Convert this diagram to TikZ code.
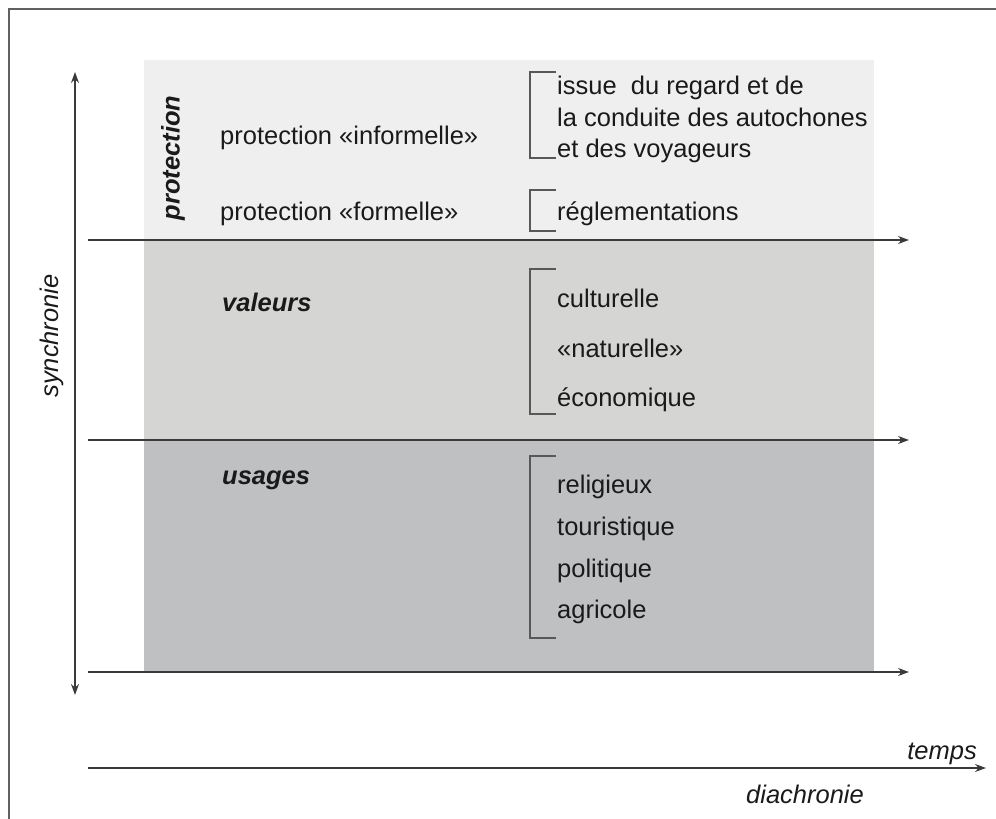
\documentclass[tikz,border=0pt]{standalone}
\usepackage{fontspec}
\setmainfont{Liberation Sans}
\usetikzlibrary{arrows.meta}

\definecolor{bandhaut}{HTML}{EFEFEF}
\definecolor{bandmilieu}{HTML}{D5D6D4}
\definecolor{bandbas}{HTML}{BFC0C1}
\definecolor{trait}{HTML}{3A3A3A}
\definecolor{encre}{HTML}{1A1A1A}

\tikzset{
  fleche/.style={line width=1.2pt, color=trait, >={Stealth[length=11pt,width=8pt]}},
  crochet/.style={line width=1.3pt, color=trait!85},
  texte/.style={anchor=base west, inner sep=0pt, text=encre,
    font=\fontsize{25.5}{31}\selectfont},
  titre/.style={texte, font=\fontsize{25.5}{31}\selectfont\bfseries\itshape},
  axe/.style={inner sep=0pt, text=encre, font=\fontsize{25.5}{31}\selectfont\itshape},
}

\begin{document}
\begin{tikzpicture}[x=1pt, y=-1pt]
    \useasboundingbox (0,0) rectangle (996,819);

    % cadre
    \draw [-, line width=1.4pt, color=trait!80]
    (9, 819) -- (9, 9) -- (996, 9);

    % bandes
    \fill [color=bandhaut] (144, 60) rectangle (874, 240);
    \fill [color=bandmilieu] (144, 240) rectangle (874, 440);
    \fill [color=bandbas] (144, 440) rectangle (874, 672);

    % axes
    \foreach \y/\n in {240/a, 440/b, 672/c} {
      \coordinate (g\n) at (88, \y);
      \coordinate (d\n) at (909, \y);
      \draw [fleche, ->] (g\n) -- (d\n);
    }
    \coordinate (sh) at (75, 72);
    \coordinate (sb) at (75, 695);
    \draw [fleche, <->] (sh) -- (sb);
    \coordinate (tg) at (88, 768);
    \coordinate (td) at (986, 768);
    \draw [fleche, ->] (tg) -- (td);

    % crochets
    \draw [crochet] (556, 72) -- (530, 72) -- (530, 158) -- (556, 158);
    \draw [crochet] (556, 190) -- (530, 190) -- (530, 231) -- (556, 231);
    \draw [crochet] (556, 269) -- (530, 269) -- (530, 414) -- (556, 414);
    \draw [crochet] (556, 456) -- (530, 456) -- (530, 638) -- (556, 638);

    % textes
    \node [axe, rotate=90] (synchro) at (52, 336) {synchronie};
    \node [axe, anchor=base east] (temps) at (977, 759) {temps};
    \node [axe, anchor=base] (diachro) at (805, 803) {diachronie};

    \node [titre, rotate=90, anchor=center] (prot) at (173, 158) {protection};
    \node [texte] (pinf) at (220, 144) {protection «informelle»};
    \node [texte] (pfor) at (220, 220) {protection «formelle»};
    \node [titre] (val) at (222, 311) {valeurs};
    \node [titre] (usa) at (222, 484) {usages};

    \node [texte] (issue) at (557, 94) {issue~ du regard et de};
    \node [texte] (cond) at (557, 126) {la conduite des autochones};
    \node [texte] (voy) at (557, 157) {et des voyageurs};
    \node [texte] (regl) at (557, 220) {réglementations};

    \node [texte] (cult) at (557, 307) {culturelle};
    \node [texte] (nat) at (557, 357) {«naturelle»};
    \node [texte] (eco) at (557, 406) {économique};

    \node [texte] (rel) at (557, 493) {religieux};
    \node [texte] (tour) at (557, 535) {touristique};
    \node [texte] (pol) at (557, 577) {politique};
    \node [texte] (agr) at (557, 618) {agricole};
\end{tikzpicture}
\end{document}
